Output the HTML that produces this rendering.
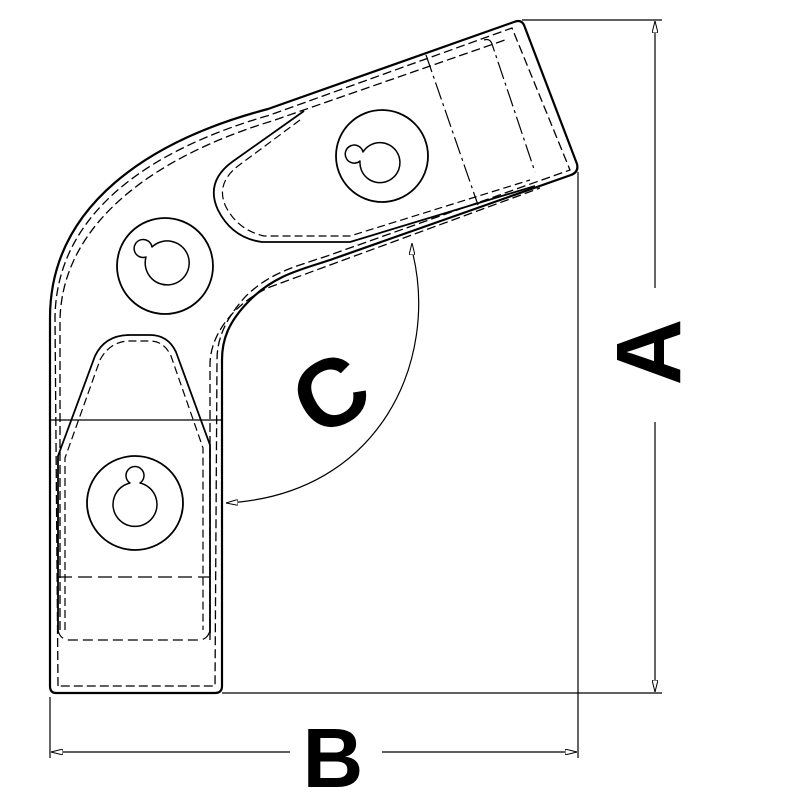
<!DOCTYPE html>
<html><head><style>html,body{margin:0;padding:0;background:#fff;}svg{display:block}</style></head>
<body>
<svg width="800" height="800" viewBox="0 0 800 800" xmlns="http://www.w3.org/2000/svg">
<defs>
<marker id="ar" viewBox="0 0 12 6" refX="12" refY="3" markerWidth="12" markerHeight="6" orient="auto" markerUnits="userSpaceOnUse">
<path d="M0,0 L12,3 L0,6 Z" fill="#fff" stroke="#000" stroke-width="1"/>
</marker>
</defs>
<g fill="none" stroke="#000" stroke-linejoin="round">
<!-- dimension lines -->
<g stroke-width="1.2">
<line x1="522" y1="20" x2="662" y2="20"/>
<line x1="222" y1="693" x2="662" y2="693"/>
<line x1="655" y1="288" x2="655" y2="21" marker-end="url(#ar)"/>
<line x1="655" y1="422" x2="655" y2="692" marker-end="url(#ar)"/>
<line x1="50" y1="697" x2="50" y2="758"/>
<line x1="578" y1="172" x2="578" y2="758"/>
<line x1="290" y1="752" x2="51" y2="752" marker-end="url(#ar)"/>
<line x1="382" y1="752" x2="577" y2="752" marker-end="url(#ar)"/>
<path d="M412,250 C440,360 380,495 226,503" marker-end="url(#ar)"/>
<path d="M340,300 C410,300 420,250 412,242" stroke="none"/>
</g>
<line x1="412" y1="268" x2="412" y2="243" stroke-width="1" marker-end="url(#ar)" stroke="none"/>
<!-- outer outline -->
<path stroke-width="2.2" d="M56,693 Q50,693 50,686 L50,318 C50,205 150,140 268,109 L514,22 Q521,19 524,25 L577,164 Q579,172 571,175 L330,260 C300,270 275,275 250,300 C228,322 222,340 222,360 L222,686 Q222,693 215,693 Z"/>
<!-- dashed inner offset -->
<path stroke-width="1.3" stroke-dasharray="9,4" d="M58,686 L55,318 C56,210 155,148 270,115 L512,28 L570,170 L330,255 C298,266 272,271 246,296 C226,318 217,338 217,360 L215,686 Z"/>
<path stroke-width="1.3" stroke-dasharray="9,4" d="M60,630 L60,320 C62,220 160,155 272,121 L505,40"/>
<path stroke-width="1.3" stroke-dasharray="9,4" d="M210,640 L210,365 C210,330 240,300 270,287 L540,188"/>
<line x1="50" y1="420" x2="222" y2="420" stroke-width="1.2"/>
<!-- lower tongue -->
<path stroke-width="1.8" d="M58,633 L58,456 L95,356 Q105,335 130,335 L150,335 Q168,335 176,352 L210,445 L210,633"/>
<path stroke-width="1.2" stroke-dasharray="8,4" d="M65,630 L65,458 L100,360 Q110,341 130,341 L150,341 Q164,341 171,356 L203,448 L203,630"/>
<line x1="58" y1="577" x2="210" y2="577" stroke-width="1.2" stroke-dasharray="14,6"/>
<path stroke-width="1.2" stroke-dasharray="10,5" d="M58,630 Q60,640 70,640 L198,640 Q208,640 210,630"/>
<!-- upper tongue -->
<path stroke-width="1.8" d="M304,111 L232,162 Q205,182 218,210 Q232,238 262,242 L350,242 L535,186"/>
<path stroke-width="1.2" stroke-dasharray="8,4" d="M300,120 L238,166 Q215,184 226,207 Q238,230 264,236 L350,236 L530,180"/>
<path stroke-width="1.2" stroke-dasharray="18,4,3,4" d="M426,55 L478,205"/>
<path stroke-width="1.2" stroke-dasharray="18,4,3,4" d="M484,40 Q490,38 492,44 L535,172"/>
<!-- holes -->
<g stroke-width="1.8">
<ellipse cx="135" cy="503" rx="48" ry="47"/>
<path d="M130,483 A9,9 0 1 1 140,483 A22,22 0 1 1 130,483 Z" stroke-width="1.5"/>
<circle cx="165" cy="266" r="48"/>
<path d="M146,257 A9,9 0 1 1 152,247 A22,22 0 1 1 146,257 Z" stroke-width="1.5"/>
<circle cx="382" cy="156" r="46"/>
<path d="M360,161 A9,9 0 1 1 363,152 A20,20 0 1 1 360,161 Z" stroke-width="1.5"/>
</g>
</g>
<g font-family="Liberation Sans, sans-serif" font-weight="bold" fill="#000">
<text x="0" y="0" font-size="92" text-anchor="middle" transform="translate(680,352) rotate(-90)">A</text>
<text x="333" y="787" font-size="84" text-anchor="middle">B</text>
<text x="0" y="0" font-size="96" text-anchor="middle" transform="translate(347,422) rotate(-30)">C</text>
</g>
</svg>
</body></html>
